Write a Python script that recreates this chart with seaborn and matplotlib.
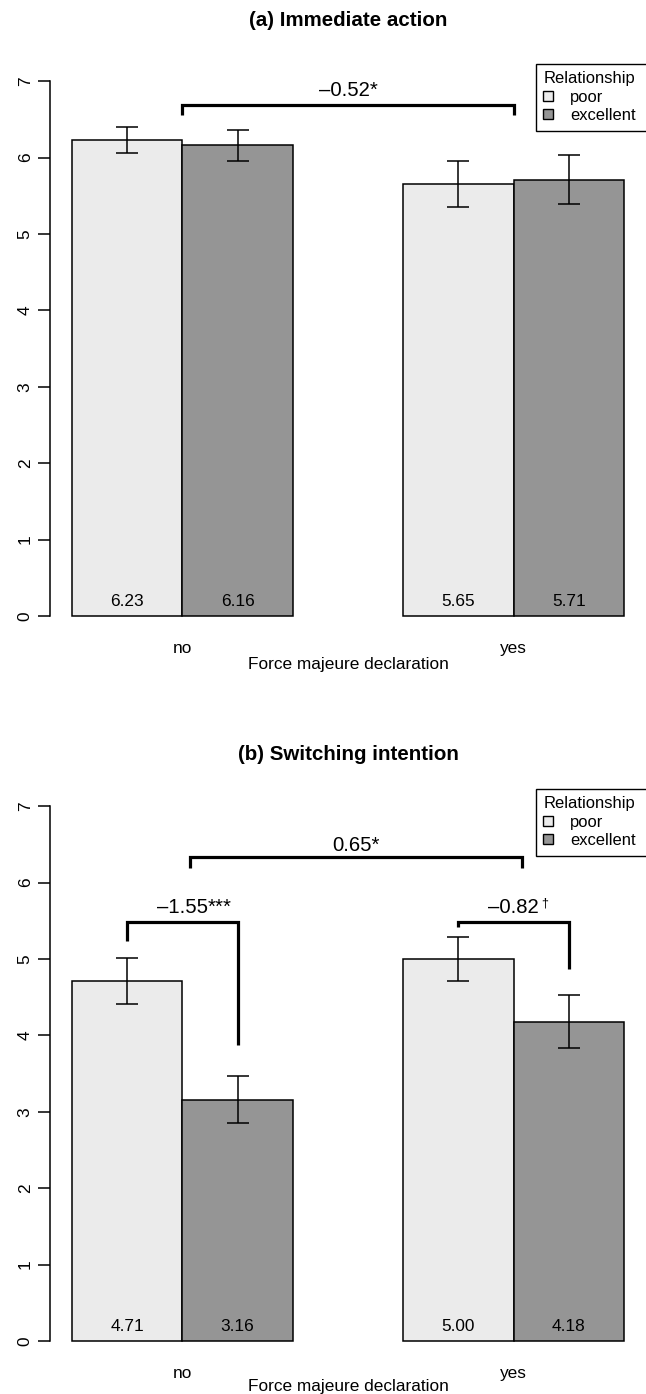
import numpy as np
import pandas as pd
import matplotlib
matplotlib.use("Agg")
import matplotlib.pyplot as plt
import seaborn as sns
from matplotlib.patches import Patch

# ---------------- data ----------------
declaration = ["no", "yes"]
relationship = ["poor", "excellent"]
titles = ["(a) Immediate action", "(b) Switching intention"]
x_title = "Force majeure declaration"
legend_title = "Relationship"

# order: no-poor, no-excellent, yes-poor, yes-excellent
means_a = [6.23, 6.16, 5.65, 5.71]
err_a = [0.17, 0.20, 0.30, 0.32]
means_b = [4.71, 3.16, 5.00, 4.18]
err_b = [0.30, 0.31, 0.29, 0.35]
y_ticks = [0, 1, 2, 3, 4, 5, 6, 7]

# brackets: (left anchor, right anchor, y of bar, y left tip, y right tip,
#            label, suffix, label baseline y, x shift)
brackets_a = [(("group", 0), ("group", 1), 6.69, 6.56, 6.56, "\u20130.52*", "", 6.80, 0.0)]
brackets_b = [
    (("group", 0), ("group", 1), 6.34, 6.19, 6.19, "0.65*", "", 6.42, 0.024),
    (("bar", 0), ("bar", 1), 5.48, 5.23, 3.88, "\u20131.55", "***", 5.60, 0.0),
    (("bar", 2), ("bar", 3), 5.49, 5.42, 4.87, "\u20130.82", "\u2020", 5.60, 0.0),
]

# ---------------- style ----------------
sns.set_style("ticks")
plt.rcParams["font.family"] = ["Liberation Sans", "DejaVu Sans"]
plt.rcParams["axes.edgecolor"] = "black"
plt.rcParams["xtick.color"] = "black"
plt.rcParams["ytick.color"] = "black"
plt.rcParams["text.color"] = "black"

LIGHT, DARK = "#EBEBEB", "#959595"
BASE = 12.4
ANN = 14.6
W, H = 646, 1394
fig = plt.figure(figsize=(W / 100, H / 100), dpi=100)

panels = [
    dict(means=means_a, err=err_a, brackets=brackets_a, top=59.8, title_y=20, xlab_y=664),
    dict(means=means_b, err=err_b, brackets=brackets_b, top=784.8, title_y=755, xlab_y=1386),
]
plot_h = 577.6
left_px = 50

for i, p in enumerate(panels):
    ax = fig.add_axes([left_px / W, 1 - (p["top"] + plot_h) / H, (W - left_px) / W, plot_h / H])
    df = pd.DataFrame({
        "declaration": np.repeat(declaration, len(relationship)),
        "relationship": relationship * len(declaration),
        "mean": p["means"],
    })
    sns.barplot(data=df, x="declaration", y="mean", hue="relationship",
                order=declaration, hue_order=relationship,
                palette=[LIGHT, DARK], saturation=1, width=2 / 3, gap=0,
                edgecolor="black", linewidth=1.1, errorbar=None, legend=False, ax=ax)
    ax.set_xlim(-0.4, 1.4)
    ax.set_ylim(-0.28, 7.28)
    ax.set_xlabel("")
    ax.set_ylabel("")

    bars = sorted(ax.patches, key=lambda r: r.get_x())
    xs = [r.get_x() + r.get_width() / 2 for r in bars]
    hs = [r.get_height() for r in bars]
    ax.errorbar(xs, hs, yerr=p["err"], fmt="none", ecolor="black",
                elinewidth=1.1, capsize=7.9, capthick=1.1, zorder=5)
    for x, h in zip(xs, hs):
        ax.text(x, 0.134, f"{h:.2f}", ha="center", va="baseline", fontsize=BASE, zorder=6)

    groups = list(ax.get_xticks())

    def anchor(a):
        kind, k = a
        return groups[k] if kind == "group" else xs[k]

    for (la, ra, yb, yl, yr, lab, suf, ly, sh) in p["brackets"]:
        x0, x1 = anchor(la) + sh, anchor(ra) + sh
        ax.plot([x0, x0, x1, x1], [yl, yb, yb, yr], color="black", lw=2.3,
                solid_joinstyle="miter", solid_capstyle="butt", zorder=7)
        t = ax.text((x0 + x1) / 2, ly, lab, ha="center", va="baseline", fontsize=ANN, zorder=8)
        if suf == "\u2020":
            ax.annotate(suf, xy=(1.0, 0.42), xycoords=t, ha="left", va="bottom",
                        fontsize=9, xytext=(1.5, 0), textcoords="offset points")
        elif suf:
            ax.annotate(suf, xy=(1.0, 0.0), xycoords=t, ha="left", va="bottom", fontsize=ANN)

    # axes styling
    sns.despine(ax=ax, bottom=True)
    ax.spines["left"].set_bounds(0, 7)
    ax.spines["left"].set_linewidth(1.1)
    ax.set_yticks(y_ticks)
    ax.set_yticklabels([str(v) for v in y_ticks])
    ax.tick_params(axis="y", left=True, length=8.5, width=1.1, pad=4,
                   labelsize=BASE, labelrotation=90)
    for tl in ax.get_yticklabels():
        tl.set_va("center")
    ax.tick_params(axis="x", bottom=False, length=0, pad=2.5, labelsize=BASE)

    handles = [Patch(facecolor=c, edgecolor="black", linewidth=1.0, label=l)
               for c, l in zip([LIGHT, DARK], relationship)]
    leg = ax.legend(handles=handles, title=legend_title, loc="upper left",
                    bbox_to_anchor=(0.8154, 0.5, 0.25, 0.4927), mode="expand",
                    fontsize=11.9, title_fontsize=11.9, frameon=True, fancybox=False,
                    framealpha=1, edgecolor="black", borderaxespad=0, borderpad=0.45,
                    labelspacing=0.2, handlelength=0.6, handleheight=0.6,
                    handletextpad=1.0, alignment="left")
    leg.get_frame().set_linewidth(1.0)

    cx = (left_px + W) / 2 / W
    fig.text(cx, 1 - p["title_y"] / H, titles[i], ha="center", va="center",
             fontsize=14.8, fontweight="bold")
    fig.text(cx, 1 - p["xlab_y"] / H, x_title, ha="center", va="center", fontsize=BASE)

fig.savefig("out.png", dpi=100)
